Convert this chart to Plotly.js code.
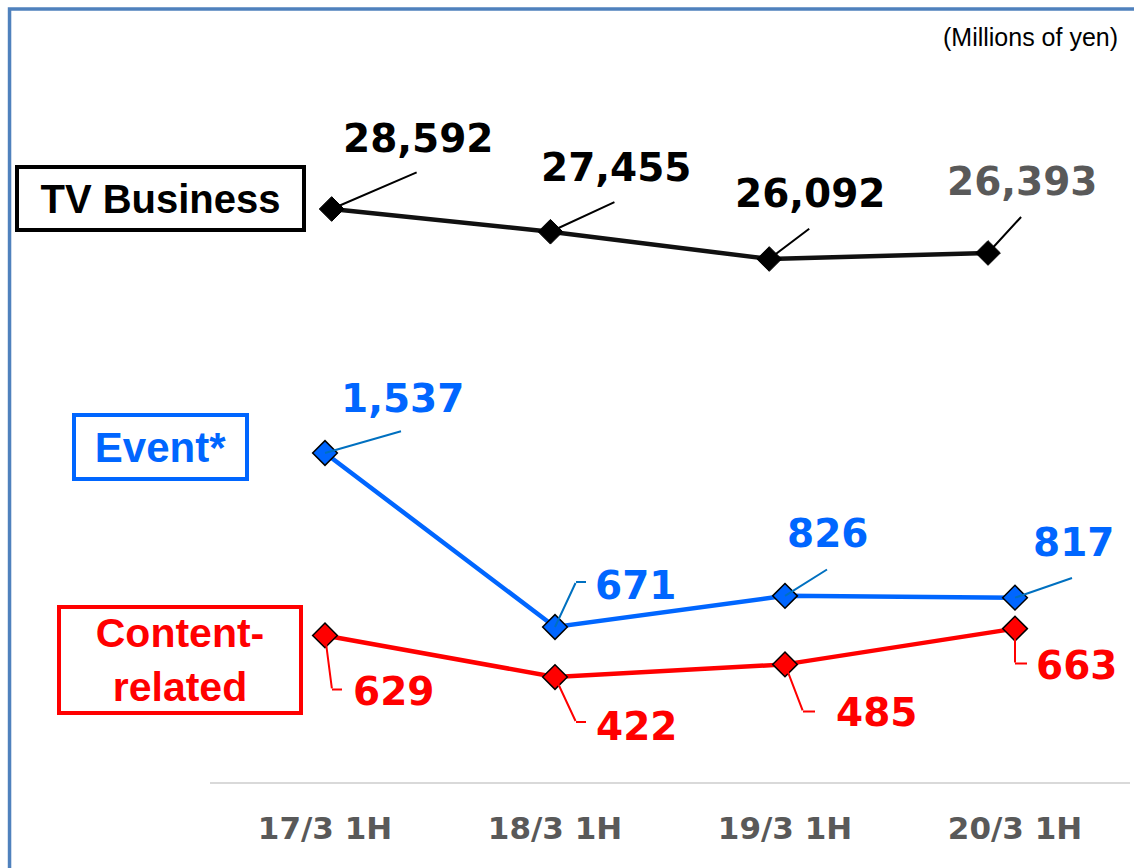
<!DOCTYPE html>
<html lang="en">
<head>
  <meta charset="UTF-8">
  <title>Segment sales, 1H</title>
  <script src="https://cdn.plot.ly/plotly-3.0.1.min.js"></script>
  <style>
    html, body { margin: 0; padding: 0; background: #ffffff; }
    #chart { width: 1134px; height: 868px; }
  </style>
</head>
<body>
  <div id="chart"></div>

  <script>
    // Data (millions of yen)
    const periods = ["17/3 1H", "18/3 1H", "19/3 1H", "20/3 1H"];
    const tvBusiness = [28592, 27455, 26092, 26393];
    const eventSales = [1537, 671, 826, 817];
    const contentRelated = [629, 422, 485, 663];

    // Label placement (pixels from each point)
    const tvLabelShift = [[87, 71], [66, 64], [41, 66], [34, 71]];
    const tvLeader = [[86, -37], [65, -30], [41, -31], [34, -37]];
    const eventLabelShift = [[77, 55], [80, 42], [42, 62], [58, 55]];
    const eventLeader = [[77, -22], [21, -45], [43, -27], [58, -20]];
    const eventElbow = [0, 11, 0, 0];
    const contentLabelShift = [[68, -56], [81, -49], [91, -48], [61, -37]];
    const contentLeader = [[7, 54], [21, 45], [18, 47], [0, 35]];
    const contentElbow = [11, 11, 13, 13];

    const BLUE = "#0066FF";
    const RED = "#FF0000";
    const valueFont = "DejaVu Sans, Verdana, sans-serif";
    const boxFont = "Liberation Sans, Arial, sans-serif";

    const fmt = (v) => v.toLocaleString("en-US");

    const traces = [
      {
        x: periods, y: tvBusiness, xaxis: "x2", yaxis: "y2",
        type: "scatter", mode: "lines+markers",
        line: { color: "#111111", width: 4.5 },
        marker: { symbol: "diamond", size: 19, color: "#000000", line: { color: "#000000", width: 1 } }
      },
      {
        x: periods, y: eventSales,
        type: "scatter", mode: "lines+markers",
        line: { color: BLUE, width: 4.5 },
        marker: { symbol: "diamond", size: 19, color: BLUE, line: { color: "#000000", width: 1.5 } }
      },
      {
        x: periods, y: contentRelated,
        type: "scatter", mode: "lines+markers",
        line: { color: RED, width: 4.5 },
        marker: { symbol: "diamond", size: 19, color: RED, line: { color: "#000000", width: 1.5 } }
      }
    ];

    const annotations = [];

    // thin leader line: no text box, so the line runs the full length
    const leaderLine = (xref, yref, x, y, ax, ay, color, xshift, yshift) => ({
      xref, yref, x, y, showarrow: true, arrowhead: 0,
      arrowwidth: 2, arrowcolor: color, standoff: 0, startstandoff: 0,
      ax, ay, xshift: xshift || 0, yshift: yshift || 0,
      text: " ", font: { size: 1 }, width: 1, height: 1, borderpad: 0
    });

    // value labels + leader lines
    const addLabels = (vals, xref, yref, shifts, leaders, elbows, color, leaderColor, labelColors) => {
      vals.forEach((v, i) => {
        annotations.push({
          xref, yref, x: periods[i], y: v, text: fmt(v), showarrow: false,
          xshift: shifts[i][0], yshift: shifts[i][1],
          font: { family: valueFont, size: 39, weight: "bold", color: labelColors ? labelColors[i] : color }
        });
        annotations.push(leaderLine(xref, yref, periods[i], v, leaders[i][0], leaders[i][1], leaderColor));
        if (elbows && elbows[i]) {
          annotations.push(leaderLine(xref, yref, periods[i], v, elbows[i], 0, leaderColor,
            leaders[i][0], -leaders[i][1]));
        }
      });
    };

    addLabels(tvBusiness, "x2", "y2", tvLabelShift, tvLeader, null, "#000000", "#000000",
      ["#000000", "#000000", "#000000", "#595959"]);
    addLabels(eventSales, "x", "y", eventLabelShift, eventLeader, eventElbow, BLUE, "#0070C0");
    addLabels(contentRelated, "x", "y", contentLabelShift, contentLeader, contentElbow, RED, RED);

    // series name boxes
    annotations.push(
      {
        xref: "paper", yref: "paper", x: -0.0538, y: 0.7657, xanchor: "center", yanchor: "middle",
        text: "TV Business", showarrow: false, width: 283, height: 59,
        bordercolor: "#000000", borderwidth: 4, borderpad: 0, bgcolor: "#ffffff",
        font: { family: boxFont, size: 40, weight: "bold", color: "#000000" }
      },
      {
        xref: "paper", yref: "paper", x: -0.0538, y: 0.4396, xanchor: "center", yanchor: "middle",
        text: "Event*", showarrow: false, width: 169, height: 60,
        bordercolor: BLUE, borderwidth: 4, borderpad: 0, bgcolor: "#ffffff",
        font: { family: boxFont, size: 42, weight: "bold", color: BLUE }
      },
      {
        xref: "paper", yref: "paper", x: -0.0326, y: 0.1601, xanchor: "center", yanchor: "middle",
        text: "Content-<br>related", showarrow: false, width: 238, height: 102,
        bordercolor: RED, borderwidth: 4, borderpad: 0, bgcolor: "#ffffff",
        font: { family: boxFont, size: 41, weight: "bold", color: RED }
      },
      {
        xref: "paper", yref: "paper", x: 0.989, y: 0.978, xanchor: "right", yanchor: "middle",
        text: "(Millions of yen)", showarrow: false,
        font: { family: boxFont, size: 25, color: "#000000" }
      }
    );

    const layout = {
      width: 1134,
      height: 868,
      margin: { l: 210, r: 4, t: 20, b: 86 },
      paper_bgcolor: "#ffffff",
      plot_bgcolor: "rgba(0,0,0,0)",
      showlegend: false,
      hovermode: false,
      xaxis: {
        type: "category", range: [-0.5, 3.5],
        showgrid: false, zeroline: false,
        showline: true, linecolor: "#D9D9D9", linewidth: 2,
        ticks: "outside", ticklen: 18, tickcolor: "rgba(0,0,0,0)",
        tickfont: { family: valueFont, size: 31, weight: "bold", color: "#595959" }
      },
      xaxis2: {
        type: "category", overlaying: "x", range: [-0.556, 3.649], visible: false
      },
      yaxis: { range: [-100.4, 3692], visible: false },
      yaxis2: { range: [-58, 38042], overlaying: "y", visible: false },
      shapes: [
        {
          type: "rect", xref: "paper", yref: "paper",
          x0: -0.2179, x1: 1.2, y0: -0.5, y1: 1.0144,
          line: { color: "#4F81BD", width: 3.5 }, layer: "above"
        }
      ],
      annotations
    };

    Plotly.newPlot("chart", traces, layout, { displayModeBar: false, staticPlot: true });
  </script>
</body>
</html>
